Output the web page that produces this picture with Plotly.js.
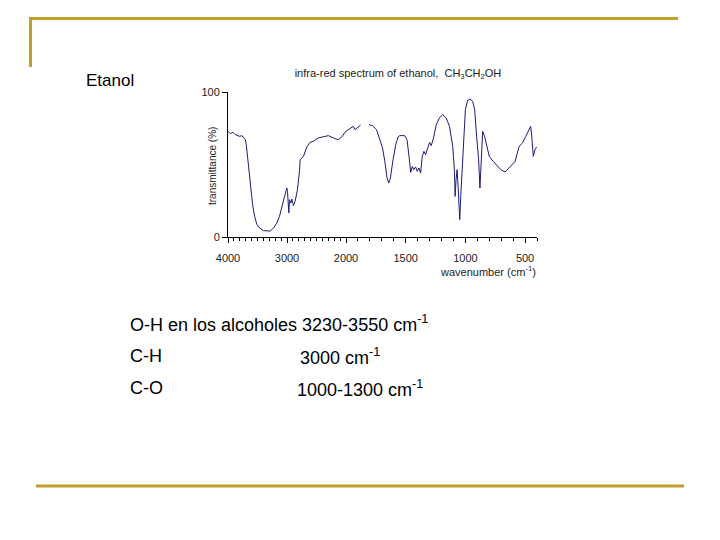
<!DOCTYPE html>
<html>
<head>
<meta charset="utf-8">
<script src="https://cdn.plot.ly/plotly-3.0.1.min.js"></script>
<style>
html,body{margin:0;padding:0;background:#fff;}
#chart{width:720px;height:540px;}
</style>
</head>
<body>
<div id="chart"></div>
<script>
// Data
const wavenumber = [4000,3961,3915,3876,3803,3763,3735,3707,3690,3651,3611,3583,3549,3510,3465,3397,3285,3228,3172,3127,3070,3031,3003,2992,2969,2958,2935,2918,2890,2862,2823,2789,2777,2721,2665,2608,2552,2468,2383,2299,2214,2130,2073,1994,1967,1939,1925,1897,1878,1840,1808,1778,1744,1717,1694,1675,1656,1642,1628,1606,1583,1564,1550,1508,1489,1472,1458,1444,1433,1417,1403,1389,1375,1361,1347,1333,1319,1300,1286,1267,1244,1217,1189,1161,1133,1106,1092,1086,1078,1069,1061,1056,1047,1039,1028,1017,1000,981,961,939,922,906,889,878,869,855,839,819,800,767,731,703,667,633,583,550,522,494,467,453,444,431,417,403];
const transmittance = [72.9,71.3,72.2,70.6,69.4,69.9,68.3,67.1,63.7,48.7,34.9,22.3,14.3,8.5,6.2,4.4,4.1,6.2,9.7,14.3,23.4,30.3,33.8,31.5,16.6,25.7,23.4,26.2,21.6,24.6,32.6,45.3,53.3,55.6,62.1,65.3,66.0,68.3,69.0,69.9,68.3,67.1,69.0,73.3,75.2,76.3,74.0,75.6,77.2,null,77.5,76.8,74.0,67.1,61.4,52.2,40.7,37.2,40.7,53.3,63.7,69.0,69.9,69.9,67.1,55.6,44.6,48.7,46.4,48.3,45.3,47.6,44.1,55.6,59.1,56.8,60.2,65.3,63.0,68.3,77.5,82.1,84.4,82.1,76.3,62.5,46.4,28.0,39.5,46.4,34.9,21.1,12.0,28.0,46.4,69.4,87.8,94.3,95.2,93.6,87.8,69.4,53.3,33.8,51.0,72.9,69.4,61.4,55.6,52.2,48.7,46.4,44.8,47.6,52.2,62.5,64.8,69.4,74.0,76.3,69.4,55.6,60.2,62.1];

// Axis ticks (the wavenumber axis changes scale at 2000 cm-1)
const highTicks = [4000, 3000, 2000];
const lowTicks = [1500, 1000, 500];
const yTicks = [0, 100];
const yTickLabels = ['0', '100'];

// Slide texts
const slideTitle = 'Etanol';
const chartTitle = 'infra-red spectrum of ethanol,  CH<sub>3</sub>CH<sub>2</sub>OH';
const xTitle = 'wavenumber (cm<sup>-1</sup>)';
const yTitle = 'transmittance (%)';
const bandNames = ['O-H en los alcoholes 3230-3550 cm<sup>-1</sup>', 'C-H', 'C-O'];
const bandRanges = ['', '3000 cm<sup>-1</sup>', '1000-1300 cm<sup>-1</sup>'];

const W = 720, H = 540;
const px = v => v / W;
const py = v => 1 - v / H;

const gold = '#BFA02C';
const lineColor = '#1c1c78';
const tickFont = {family: 'Liberation Sans, Arial, sans-serif', size: 11, color: '#222'};
const textFont = {family: 'Liberation Sans, Arial, sans-serif', size: 18, color: '#000'};

const traces = [
  {x: wavenumber, y: transmittance, xaxis: 'x', yaxis: 'y', type: 'scatter', mode: 'lines',
   line: {color: lineColor, width: 1}, connectgaps: false, hoverinfo: 'skip', showlegend: false},
  {x: wavenumber, y: transmittance, xaxis: 'x2', yaxis: 'y', type: 'scatter', mode: 'lines',
   line: {color: lineColor, width: 1}, connectgaps: false, hoverinfo: 'skip', showlegend: false}
];

const xCommon = {
  showline: true, linecolor: '#000', linewidth: 1, showgrid: false, zeroline: false,
  ticks: 'outside', ticklen: 5, tickcolor: '#000', tickfont: tickFont,
  tickmode: 'array', ticklabelstandoff: 6,
  minor: {tickmode: 'linear', tick0: 0, dtick: 100, ticks: 'outside', ticklen: 3, tickcolor: '#000', showgrid: false},
  anchor: 'y', fixedrange: true
};

const layout = {
  width: W, height: H,
  margin: {l: 0, r: 0, t: 0, b: 0},
  paper_bgcolor: '#fff', plot_bgcolor: 'rgba(0,0,0,0)',
  showlegend: false,
  title: {text: chartTitle, x: px(398), y: py(73), xref: 'paper', yref: 'paper',
          xanchor: 'center', yanchor: 'middle', font: {family: 'Liberation Sans, Arial, sans-serif', size: 11, color: '#222'}},
  xaxis: Object.assign({}, xCommon, {domain: [px(228), px(346)], range: [4000, 2000],
          tickvals: highTicks, ticktext: highTicks.map(String)}),
  xaxis2: Object.assign({}, xCommon, {domain: [px(346), px(537)], range: [2000, 400],
          tickvals: lowTicks, ticktext: lowTicks.map(String)}),
  yaxis: {domain: [py(237), py(92)], range: [0, 100], showline: true, linecolor: '#000', linewidth: 1,
          showgrid: false, zeroline: false, ticks: 'outside', ticklen: 5, tickcolor: '#000',
          tickmode: 'array', tickvals: yTicks, ticktext: yTickLabels, tickfont: tickFont, fixedrange: true},
  shapes: [
    {type: 'line', xref: 'paper', yref: 'paper', x0: px(29), x1: px(678), y0: py(18.5), y1: py(18.5), line: {color: gold, width: 3}},
    {type: 'line', xref: 'paper', yref: 'paper', x0: px(30.5), x1: px(30.5), y0: py(17), y1: py(67), line: {color: gold, width: 3}},
    {type: 'line', xref: 'paper', yref: 'paper', x0: px(36), x1: px(684), y0: py(486), y1: py(486), line: {color: gold, width: 3}}
  ],
  annotations: [
    {text: slideTitle, xref: 'paper', yref: 'paper', x: px(84), y: py(80), xanchor: 'left', yanchor: 'middle',
     showarrow: false, font: {family: 'Liberation Sans, Arial, sans-serif', size: 17, color: '#000'}},
    {text: yTitle, xref: 'paper', yref: 'paper', x: px(213), y: py(166), xanchor: 'center', yanchor: 'middle',
     textangle: -90, showarrow: false, font: {family: 'Liberation Sans, Arial, sans-serif', size: 10, color: '#222'}},
    {text: xTitle, xref: 'paper', yref: 'paper', x: px(538), y: py(271), xanchor: 'right', yanchor: 'middle',
     showarrow: false, font: {family: 'Liberation Sans, Arial, sans-serif', size: 11, color: '#222'}},
    {text: bandNames[0], xref: 'paper', yref: 'paper', x: px(128), y: py(323), xanchor: 'left', yanchor: 'middle', showarrow: false, font: textFont},
    {text: bandNames[1], xref: 'paper', yref: 'paper', x: px(128), y: py(356), xanchor: 'left', yanchor: 'middle', showarrow: false, font: textFont},
    {text: bandRanges[1], xref: 'paper', yref: 'paper', x: px(298), y: py(356), xanchor: 'left', yanchor: 'middle', showarrow: false, font: textFont},
    {text: bandNames[2], xref: 'paper', yref: 'paper', x: px(128), y: py(388), xanchor: 'left', yanchor: 'middle', showarrow: false, font: textFont},
    {text: bandRanges[2], xref: 'paper', yref: 'paper', x: px(295), y: py(388), xanchor: 'left', yanchor: 'middle', showarrow: false, font: textFont}
  ]
};

Plotly.newPlot('chart', traces, layout, {staticPlot: true, displayModeBar: false});
</script>
</body>
</html>
